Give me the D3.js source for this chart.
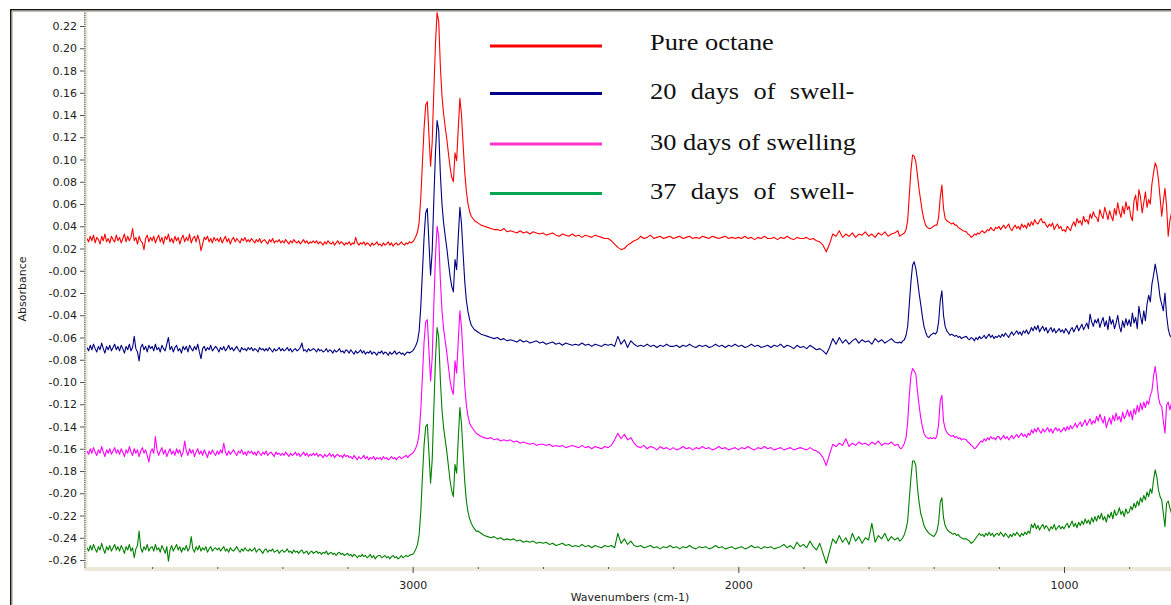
<!DOCTYPE html>
<html>
<head>
<meta charset="utf-8">
<script src="https://cdn.jsdelivr.net/npm/d3@7"></script>
<style>
  html, body { margin: 0; padding: 0; background: #fff; }
  svg { display: block; }
</style>
</head>
<body>
<svg id="chart" width="1171" height="605"></svg>
<script>
// ---- Data -----------------------------------------------------------------
// Spectra are sampled on a shared wavenumber grid (cm-1): 5 cm-1 steps in the
// noisy ends and the band regions, 10 cm-1 steps across the quiet middle.
const gridSegments = [
  [4000, 3005, 5],
  [3000, 2805, 5],
  [2800, 1510, 10],
  [1505, 1310, 5],
  [1300, 605, 5]
];
const wavenumbers = gridSegments.flatMap(([from, to, step]) => d3.range(from, to - step / 2, -step));

const pureOctane = [
  // 4000 - 3005
  0.029,0.026,0.031,0.027,0.032,0.025,0.030,0.028,0.024,0.031,0.027,0.033,0.026,0.029,0.025,0.031,0.028,0.026,0.032,0.027,
  0.030,0.025,0.029,0.033,0.026,0.031,0.027,0.030,0.038,0.027,0.030,0.024,0.031,0.027,0.025,0.019,0.029,0.032,0.026,0.030,
  0.027,0.031,0.025,0.029,0.032,0.026,0.030,0.024,0.031,0.028,0.033,0.026,0.029,0.025,0.031,0.027,0.030,0.024,0.029,0.032,
  0.026,0.030,0.027,0.033,0.025,0.029,0.031,0.026,0.032,0.027,0.018,0.024,0.030,0.028,0.031,0.026,0.029,0.025,0.030,0.027,
  0.029,0.026,0.030,0.025,0.028,0.031,0.026,0.029,0.024,0.028,0.030,0.026,0.029,0.027,0.025,0.029,0.027,0.030,0.026,0.028,
  0.026,0.029,0.027,0.025,0.028,0.026,0.029,0.025,0.027,0.028,0.026,0.024,0.028,0.026,0.029,0.025,0.027,0.026,0.028,0.025,
  0.027,0.025,0.028,0.026,0.024,0.027,0.025,0.028,0.026,0.025,0.027,0.024,0.026,0.028,0.025,0.027,0.024,0.026,0.025,0.027,
  0.025,0.027,0.024,0.026,0.025,0.023,0.026,0.024,0.027,0.025,0.024,0.026,0.023,0.025,0.027,0.024,0.026,0.025,0.023,0.025,
  0.024,0.026,0.023,0.025,0.024,0.030,0.025,0.023,0.025,0.024,0.026,0.023,0.025,0.024,0.022,0.025,0.023,0.024,0.026,0.023,
  0.024,0.022,0.025,0.023,0.024,0.026,0.023,0.025,0.022,0.024,0.025,0.023,0.024,0.026,0.024,0.023,0.025,0.024,0.026,0.025,
  // 3000 - 2805
  0.026,0.028,0.031,0.035,0.044,0.066,0.097,0.128,0.149,0.152,
  0.122,0.094,0.116,0.162,0.204,0.232,0.224,0.184,0.157,0.141,
  0.129,0.118,0.105,0.093,0.084,0.080,0.106,0.099,0.128,0.155,
  0.140,0.113,0.088,0.071,0.060,0.053,0.049,0.047,0.045,0.044,
  // 2800 - 1510
  0.043,0.041,0.040,0.039,0.038,0.037,0.037,0.036,0.038,0.035,
  0.036,0.035,0.034,0.036,0.034,0.035,0.033,0.035,0.034,0.033,
  0.034,0.032,0.033,0.034,0.032,0.031,0.033,0.032,0.031,0.033,
  0.031,0.032,0.030,0.032,0.031,0.030,0.032,0.031,0.030,0.029,
  0.029,0.027,0.024,0.021,0.019,0.020,0.023,0.025,0.027,0.028,
  0.031,0.029,0.030,0.032,0.029,0.030,0.031,0.029,0.030,0.031,
  0.029,0.030,0.031,0.029,0.030,0.031,0.029,0.030,0.029,0.031,
  0.030,0.029,0.031,0.030,0.029,0.030,0.031,0.029,0.030,0.029,
  0.030,0.029,0.031,0.029,0.030,0.028,0.030,0.029,0.031,0.029,
  0.029,0.030,0.028,0.030,0.029,0.031,0.029,0.028,0.030,0.029,
  0.029,0.030,0.028,0.029,0.027,0.026,0.023,0.017,0.024,0.033,
  0.031,0.036,0.030,0.033,0.031,0.034,0.030,0.033,0.032,0.035,
  0.031,0.033,0.030,0.034,0.032,0.035,0.031,0.033,0.034,0.036,
  // 1505 - 1310
  0.031,0.032,0.033,0.034,0.037,0.045,0.068,0.090,0.104,0.103,
  0.098,0.086,0.073,0.063,0.053,0.046,0.041,0.039,0.038,0.038,
  0.039,0.040,0.041,0.041,0.048,0.066,0.077,0.056,0.047,0.045,
  0.044,0.043,0.042,0.043,0.041,0.041,0.039,0.038,0.037,0.036,
  // 1300 - 605
  0.035,0.033,0.032,0.030,0.031,0.033,0.032,0.034,0.033,0.035,0.036,0.034,0.035,0.037,0.036,0.039,0.037,0.036,0.039,0.038,
  0.040,0.037,0.039,0.041,0.038,0.040,0.042,0.038,0.036,0.039,0.041,0.038,0.040,0.037,0.042,0.039,0.041,0.038,0.043,0.040,
  0.044,0.041,0.046,0.043,0.042,0.045,0.047,0.043,0.044,0.041,0.039,0.042,0.040,0.043,0.037,0.040,0.042,0.038,0.040,0.036,
  0.037,0.035,0.040,0.038,0.036,0.041,0.044,0.040,0.047,0.043,0.045,0.041,0.049,0.044,0.046,0.042,0.051,0.047,0.053,0.049,
  0.048,0.044,0.055,0.050,0.047,0.057,0.052,0.046,0.054,0.049,0.045,0.056,0.050,0.061,0.053,0.048,0.058,0.051,0.062,0.055,
  0.058,0.049,0.045,0.063,0.068,0.054,0.073,0.066,0.052,0.061,0.071,0.057,0.064,0.060,0.078,0.088,0.097,0.093,0.082,0.066,
  0.049,0.062,0.074,0.058,0.031,0.045,0.052,0.060,0.055,0.048,0.058,0.052,0.050,0.055,0.054,0.051,0.052,0.056,0.053,0.050
];

const swelling20 = [
  // 4000 - 3005
  -0.069,-0.072,-0.067,-0.071,-0.066,-0.070,-0.073,-0.068,-0.071,-0.065,-0.070,-0.074,-0.068,-0.071,-0.067,-0.072,-0.069,-0.066,-0.071,-0.068,
  -0.072,-0.067,-0.070,-0.074,-0.068,-0.071,-0.066,-0.072,-0.069,-0.059,-0.070,-0.073,-0.081,-0.069,-0.066,-0.071,-0.068,-0.073,-0.067,-0.070,
  -0.068,-0.072,-0.066,-0.071,-0.069,-0.073,-0.067,-0.070,-0.072,-0.066,-0.060,-0.071,-0.068,-0.073,-0.069,-0.067,-0.072,-0.070,-0.074,-0.068,
  -0.071,-0.068,-0.073,-0.067,-0.070,-0.072,-0.068,-0.071,-0.066,-0.073,-0.079,-0.070,-0.068,-0.072,-0.069,-0.071,-0.067,-0.072,-0.070,-0.068,
  -0.070,-0.073,-0.069,-0.071,-0.068,-0.072,-0.070,-0.067,-0.071,-0.069,-0.072,-0.070,-0.068,-0.071,-0.073,-0.069,-0.071,-0.070,-0.072,-0.069,
  -0.071,-0.069,-0.072,-0.070,-0.071,-0.073,-0.069,-0.071,-0.070,-0.072,-0.070,-0.072,-0.069,-0.071,-0.073,-0.070,-0.072,-0.071,-0.069,-0.072,
  -0.070,-0.072,-0.071,-0.069,-0.072,-0.070,-0.073,-0.071,-0.070,-0.072,-0.071,-0.069,-0.065,-0.072,-0.071,-0.073,-0.070,-0.072,-0.071,-0.070,
  -0.071,-0.073,-0.070,-0.072,-0.071,-0.073,-0.072,-0.070,-0.073,-0.071,-0.072,-0.074,-0.071,-0.073,-0.072,-0.070,-0.073,-0.072,-0.074,-0.071,
  -0.072,-0.074,-0.071,-0.073,-0.075,-0.072,-0.074,-0.073,-0.071,-0.074,-0.072,-0.075,-0.073,-0.074,-0.072,-0.075,-0.073,-0.074,-0.076,-0.073,
  -0.074,-0.072,-0.075,-0.073,-0.074,-0.076,-0.073,-0.075,-0.074,-0.072,-0.075,-0.074,-0.073,-0.075,-0.074,-0.076,-0.074,-0.073,-0.074,-0.073,
  // 3000 - 2805
  -0.072,-0.070,-0.067,-0.063,-0.054,-0.032,-0.001,0.030,0.052,0.056,
  0.025,-0.004,0.018,0.064,0.106,0.135,0.126,0.087,0.060,0.043,
  0.031,0.020,0.007,-0.005,-0.014,-0.019,0.010,0.001,0.030,0.057,
  0.042,0.015,-0.010,-0.027,-0.037,-0.044,-0.049,-0.051,-0.053,-0.054,
  // 2800 - 1510
  -0.055,-0.057,-0.058,-0.059,-0.060,-0.061,-0.060,-0.062,-0.061,-0.063,
  -0.062,-0.063,-0.064,-0.062,-0.064,-0.063,-0.065,-0.064,-0.063,-0.065,
  -0.064,-0.066,-0.065,-0.064,-0.066,-0.065,-0.067,-0.065,-0.066,-0.067,
  -0.066,-0.067,-0.065,-0.067,-0.066,-0.068,-0.066,-0.067,-0.068,-0.066,
  -0.067,-0.066,-0.068,-0.059,-0.066,-0.062,-0.069,-0.063,-0.066,-0.068,
  -0.067,-0.068,-0.066,-0.068,-0.067,-0.069,-0.067,-0.068,-0.066,-0.068,
  -0.068,-0.067,-0.069,-0.067,-0.068,-0.066,-0.068,-0.069,-0.067,-0.068,
  -0.067,-0.069,-0.068,-0.066,-0.068,-0.067,-0.069,-0.067,-0.068,-0.066,
  -0.068,-0.067,-0.069,-0.068,-0.066,-0.068,-0.067,-0.069,-0.068,-0.067,
  -0.069,-0.067,-0.068,-0.066,-0.069,-0.067,-0.068,-0.070,-0.067,-0.069,
  -0.068,-0.070,-0.067,-0.069,-0.071,-0.070,-0.072,-0.075,-0.069,-0.061,
  -0.066,-0.060,-0.065,-0.062,-0.066,-0.063,-0.061,-0.065,-0.062,-0.064,
  -0.063,-0.066,-0.061,-0.064,-0.062,-0.065,-0.063,-0.061,-0.064,-0.065,
  // 1505 - 1310
  -0.064,-0.065,-0.063,-0.062,-0.058,-0.050,-0.030,-0.010,0.005,0.008,
  0.002,-0.008,-0.020,-0.030,-0.041,-0.050,-0.055,-0.059,-0.060,-0.058,
  -0.057,-0.056,-0.057,-0.055,-0.046,-0.027,-0.018,-0.040,-0.050,-0.054,
  -0.056,-0.058,-0.057,-0.058,-0.059,-0.058,-0.060,-0.059,-0.061,-0.060,
  // 1300 - 605
  -0.059,-0.061,-0.062,-0.060,-0.061,-0.063,-0.060,-0.062,-0.059,-0.061,-0.060,-0.058,-0.061,-0.059,-0.057,-0.060,-0.058,-0.061,-0.059,-0.060,
  -0.058,-0.060,-0.057,-0.059,-0.056,-0.058,-0.060,-0.057,-0.055,-0.058,-0.056,-0.054,-0.057,-0.055,-0.058,-0.054,-0.056,-0.053,-0.057,-0.055,
  -0.051,-0.054,-0.050,-0.053,-0.049,-0.055,-0.052,-0.050,-0.054,-0.051,-0.056,-0.053,-0.051,-0.055,-0.052,-0.056,-0.054,-0.052,-0.055,-0.053,
  -0.056,-0.052,-0.054,-0.057,-0.053,-0.051,-0.055,-0.052,-0.049,-0.054,-0.051,-0.048,-0.053,-0.050,-0.047,-0.052,-0.039,-0.046,-0.050,-0.044,
  -0.047,-0.043,-0.051,-0.046,-0.042,-0.050,-0.045,-0.053,-0.041,-0.048,-0.044,-0.052,-0.047,-0.040,-0.050,-0.055,-0.045,-0.051,-0.043,-0.049,
  -0.044,-0.050,-0.038,-0.047,-0.042,-0.052,-0.032,-0.041,-0.048,-0.036,-0.045,-0.030,-0.022,-0.028,-0.012,-0.004,0.006,-0.002,-0.012,-0.024,
  -0.030,-0.036,-0.020,-0.040,-0.052,-0.058,-0.060,-0.055,-0.058,-0.052,-0.056,-0.054,-0.057,-0.053,-0.055,-0.056,-0.054,-0.057,-0.055,-0.056
];

const swelling30 = [
  // 4000 - 3005
  -0.162,-0.165,-0.160,-0.164,-0.159,-0.163,-0.166,-0.161,-0.164,-0.158,-0.163,-0.167,-0.161,-0.164,-0.160,-0.165,-0.162,-0.159,-0.164,-0.161,
  -0.165,-0.160,-0.163,-0.167,-0.161,-0.164,-0.158,-0.163,-0.166,-0.160,-0.164,-0.161,-0.167,-0.162,-0.159,-0.164,-0.161,-0.166,-0.172,-0.163,
  -0.160,-0.164,-0.149,-0.161,-0.166,-0.162,-0.159,-0.165,-0.161,-0.167,-0.163,-0.160,-0.165,-0.162,-0.166,-0.160,-0.164,-0.161,-0.167,-0.163,
  -0.153,-0.162,-0.166,-0.160,-0.164,-0.161,-0.167,-0.163,-0.160,-0.165,-0.162,-0.166,-0.161,-0.164,-0.168,-0.162,-0.165,-0.161,-0.164,-0.166,
  -0.162,-0.165,-0.161,-0.164,-0.155,-0.163,-0.166,-0.162,-0.165,-0.163,-0.161,-0.164,-0.166,-0.162,-0.164,-0.161,-0.165,-0.163,-0.166,-0.162,
  -0.164,-0.162,-0.165,-0.163,-0.166,-0.162,-0.164,-0.166,-0.163,-0.165,-0.162,-0.166,-0.164,-0.163,-0.165,-0.167,-0.163,-0.165,-0.164,-0.166,
  -0.164,-0.166,-0.163,-0.165,-0.167,-0.164,-0.166,-0.165,-0.163,-0.166,-0.164,-0.167,-0.165,-0.163,-0.166,-0.164,-0.167,-0.165,-0.166,-0.164,
  -0.166,-0.164,-0.167,-0.165,-0.166,-0.168,-0.165,-0.167,-0.166,-0.164,-0.167,-0.165,-0.168,-0.166,-0.165,-0.167,-0.166,-0.168,-0.165,-0.167,
  -0.166,-0.168,-0.167,-0.169,-0.166,-0.168,-0.170,-0.167,-0.169,-0.168,-0.166,-0.169,-0.167,-0.170,-0.168,-0.169,-0.167,-0.170,-0.168,-0.169,
  -0.168,-0.170,-0.167,-0.169,-0.168,-0.170,-0.169,-0.167,-0.169,-0.168,-0.170,-0.168,-0.167,-0.169,-0.168,-0.167,-0.166,-0.168,-0.166,-0.165,
  // 3000 - 2805
  -0.164,-0.162,-0.159,-0.155,-0.146,-0.125,-0.095,-0.064,-0.046,-0.044,
  -0.072,-0.099,-0.078,-0.030,0.012,0.040,0.031,-0.008,-0.036,-0.052,
  -0.063,-0.074,-0.087,-0.099,-0.107,-0.111,-0.081,-0.092,-0.063,-0.036,
  -0.051,-0.078,-0.104,-0.121,-0.131,-0.137,-0.140,-0.142,-0.144,-0.146,
  // 2800 - 1510
  -0.147,-0.149,-0.150,-0.151,-0.150,-0.152,-0.151,-0.153,-0.152,-0.153,
  -0.152,-0.154,-0.153,-0.155,-0.154,-0.155,-0.156,-0.155,-0.157,-0.156,
  -0.156,-0.157,-0.156,-0.158,-0.157,-0.158,-0.157,-0.159,-0.158,-0.157,
  -0.158,-0.159,-0.157,-0.159,-0.158,-0.160,-0.158,-0.159,-0.160,-0.158,
  -0.159,-0.157,-0.152,-0.146,-0.151,-0.147,-0.152,-0.150,-0.155,-0.158,
  -0.159,-0.157,-0.160,-0.158,-0.159,-0.161,-0.158,-0.160,-0.159,-0.161,
  -0.159,-0.161,-0.160,-0.158,-0.160,-0.159,-0.161,-0.159,-0.160,-0.158,
  -0.160,-0.159,-0.161,-0.160,-0.158,-0.160,-0.159,-0.161,-0.160,-0.159,
  -0.161,-0.159,-0.160,-0.158,-0.160,-0.161,-0.159,-0.160,-0.158,-0.160,
  -0.159,-0.161,-0.160,-0.159,-0.161,-0.160,-0.159,-0.161,-0.160,-0.159,
  -0.160,-0.161,-0.159,-0.161,-0.162,-0.164,-0.168,-0.175,-0.165,-0.156,
  -0.158,-0.155,-0.157,-0.151,-0.158,-0.155,-0.157,-0.154,-0.156,-0.155,
  -0.157,-0.154,-0.156,-0.153,-0.157,-0.155,-0.156,-0.154,-0.157,-0.156,
  // 1505 - 1310
  -0.159,-0.160,-0.158,-0.155,-0.150,-0.136,-0.112,-0.094,-0.088,-0.090,
  -0.093,-0.108,-0.121,-0.132,-0.140,-0.146,-0.149,-0.150,-0.151,-0.150,
  -0.151,-0.150,-0.151,-0.148,-0.138,-0.117,-0.112,-0.135,-0.142,-0.145,
  -0.147,-0.148,-0.149,-0.148,-0.150,-0.149,-0.151,-0.150,-0.152,-0.151,
  // 1300 - 605
  -0.152,-0.154,-0.155,-0.157,-0.158,-0.160,-0.159,-0.157,-0.155,-0.153,-0.154,-0.151,-0.153,-0.150,-0.152,-0.149,-0.151,-0.150,-0.152,-0.149,
  -0.149,-0.152,-0.150,-0.148,-0.151,-0.149,-0.152,-0.150,-0.148,-0.151,-0.149,-0.147,-0.150,-0.148,-0.146,-0.149,-0.147,-0.150,-0.146,-0.148,
  -0.143,-0.146,-0.142,-0.145,-0.141,-0.144,-0.146,-0.142,-0.145,-0.143,-0.141,-0.145,-0.142,-0.146,-0.143,-0.141,-0.144,-0.142,-0.145,-0.143,
  -0.141,-0.144,-0.140,-0.143,-0.139,-0.142,-0.140,-0.137,-0.141,-0.138,-0.136,-0.140,-0.137,-0.134,-0.139,-0.136,-0.133,-0.138,-0.135,-0.137,
  -0.131,-0.135,-0.129,-0.133,-0.137,-0.131,-0.141,-0.136,-0.132,-0.138,-0.130,-0.135,-0.128,-0.134,-0.131,-0.136,-0.127,-0.133,-0.130,-0.125,
  -0.131,-0.126,-0.134,-0.124,-0.129,-0.121,-0.127,-0.119,-0.125,-0.118,-0.123,-0.117,-0.120,-0.112,-0.108,-0.095,-0.086,-0.098,-0.114,-0.120,
  -0.122,-0.135,-0.146,-0.121,-0.118,-0.125,-0.119,-0.123,-0.120,-0.124,-0.121,-0.123,-0.120,-0.122,-0.121,-0.124,-0.120,-0.122,-0.121,-0.123
];

const swelling37 = [
  // 4000 - 3005
  -0.249,-0.252,-0.247,-0.251,-0.246,-0.250,-0.253,-0.248,-0.251,-0.245,-0.250,-0.254,-0.248,-0.251,-0.247,-0.252,-0.249,-0.246,-0.251,-0.248,
  -0.252,-0.247,-0.250,-0.254,-0.248,-0.251,-0.246,-0.252,-0.249,-0.258,-0.250,-0.247,-0.234,-0.249,-0.253,-0.248,-0.251,-0.246,-0.252,-0.249,
  -0.248,-0.252,-0.246,-0.251,-0.249,-0.253,-0.247,-0.250,-0.254,-0.248,-0.261,-0.251,-0.247,-0.252,-0.249,-0.246,-0.251,-0.248,-0.253,-0.249,
  -0.251,-0.247,-0.252,-0.249,-0.239,-0.250,-0.253,-0.248,-0.251,-0.247,-0.252,-0.249,-0.251,-0.248,-0.253,-0.250,-0.248,-0.252,-0.250,-0.249,
  -0.251,-0.249,-0.252,-0.250,-0.248,-0.252,-0.250,-0.253,-0.249,-0.251,-0.252,-0.250,-0.248,-0.251,-0.253,-0.250,-0.252,-0.249,-0.251,-0.252,
  -0.250,-0.252,-0.251,-0.249,-0.253,-0.251,-0.250,-0.252,-0.254,-0.251,-0.250,-0.253,-0.251,-0.252,-0.250,-0.253,-0.252,-0.251,-0.254,-0.252,
  -0.251,-0.253,-0.252,-0.250,-0.253,-0.252,-0.254,-0.251,-0.253,-0.252,-0.254,-0.252,-0.251,-0.254,-0.253,-0.252,-0.255,-0.253,-0.252,-0.254,
  -0.253,-0.252,-0.254,-0.253,-0.255,-0.253,-0.254,-0.252,-0.255,-0.254,-0.253,-0.255,-0.254,-0.256,-0.254,-0.253,-0.255,-0.254,-0.256,-0.255,
  -0.254,-0.256,-0.255,-0.257,-0.255,-0.256,-0.258,-0.256,-0.257,-0.255,-0.257,-0.256,-0.258,-0.257,-0.255,-0.258,-0.256,-0.259,-0.257,-0.256,
  -0.256,-0.258,-0.257,-0.256,-0.258,-0.257,-0.259,-0.257,-0.256,-0.258,-0.257,-0.259,-0.258,-0.256,-0.258,-0.257,-0.256,-0.257,-0.256,-0.255,
  // 3000 - 2805
  -0.255,-0.253,-0.250,-0.246,-0.237,-0.216,-0.185,-0.157,-0.140,-0.138,
  -0.164,-0.191,-0.170,-0.124,-0.080,-0.051,-0.060,-0.098,-0.125,-0.141,
  -0.152,-0.163,-0.176,-0.189,-0.198,-0.203,-0.174,-0.182,-0.151,-0.123,
  -0.138,-0.165,-0.190,-0.207,-0.217,-0.223,-0.227,-0.230,-0.232,-0.234,
  // 2800 - 1510
  -0.234,-0.236,-0.238,-0.239,-0.240,-0.239,-0.241,-0.240,-0.242,-0.241,
  -0.242,-0.241,-0.243,-0.242,-0.244,-0.243,-0.244,-0.243,-0.245,-0.244,
  -0.245,-0.244,-0.246,-0.245,-0.247,-0.246,-0.245,-0.247,-0.246,-0.248,
  -0.247,-0.248,-0.246,-0.248,-0.247,-0.249,-0.247,-0.248,-0.249,-0.247,
  -0.248,-0.247,-0.249,-0.236,-0.245,-0.241,-0.246,-0.243,-0.247,-0.248,
  -0.247,-0.249,-0.248,-0.247,-0.249,-0.248,-0.250,-0.248,-0.249,-0.247,
  -0.249,-0.248,-0.250,-0.248,-0.249,-0.247,-0.249,-0.250,-0.248,-0.249,
  -0.248,-0.250,-0.249,-0.247,-0.249,-0.248,-0.250,-0.249,-0.248,-0.250,
  -0.249,-0.248,-0.250,-0.249,-0.247,-0.249,-0.248,-0.250,-0.248,-0.249,
  -0.248,-0.250,-0.249,-0.248,-0.246,-0.249,-0.247,-0.250,-0.244,-0.248,
  -0.246,-0.249,-0.243,-0.248,-0.251,-0.245,-0.254,-0.263,-0.252,-0.241,
  -0.245,-0.238,-0.244,-0.240,-0.246,-0.236,-0.243,-0.239,-0.245,-0.240,
  -0.242,-0.227,-0.244,-0.238,-0.241,-0.236,-0.243,-0.239,-0.242,-0.240,
  // 1505 - 1310
  -0.243,-0.242,-0.240,-0.237,-0.232,-0.225,-0.205,-0.186,-0.171,-0.171,
  -0.175,-0.195,-0.208,-0.218,-0.223,-0.229,-0.232,-0.234,-0.236,-0.237,
  -0.238,-0.239,-0.237,-0.234,-0.226,-0.208,-0.204,-0.222,-0.229,-0.232,
  -0.234,-0.235,-0.236,-0.237,-0.236,-0.238,-0.237,-0.239,-0.240,-0.241,
  // 1300 - 605
  -0.241,-0.242,-0.243,-0.245,-0.244,-0.242,-0.240,-0.238,-0.236,-0.238,-0.237,-0.239,-0.236,-0.238,-0.235,-0.238,-0.236,-0.239,-0.237,-0.236,
  -0.238,-0.235,-0.237,-0.239,-0.236,-0.238,-0.240,-0.237,-0.239,-0.236,-0.238,-0.235,-0.237,-0.239,-0.236,-0.238,-0.235,-0.237,-0.234,-0.236,
  -0.228,-0.231,-0.227,-0.232,-0.229,-0.233,-0.230,-0.228,-0.232,-0.229,-0.231,-0.234,-0.230,-0.232,-0.228,-0.233,-0.231,-0.229,-0.232,-0.230,
  -0.232,-0.229,-0.227,-0.231,-0.228,-0.225,-0.230,-0.227,-0.231,-0.226,-0.229,-0.225,-0.228,-0.223,-0.227,-0.224,-0.228,-0.222,-0.226,-0.221,
  -0.225,-0.220,-0.223,-0.218,-0.224,-0.221,-0.226,-0.219,-0.222,-0.217,-0.223,-0.215,-0.220,-0.218,-0.213,-0.219,-0.216,-0.221,-0.214,-0.218,
  -0.217,-0.212,-0.215,-0.209,-0.213,-0.207,-0.211,-0.204,-0.208,-0.202,-0.206,-0.199,-0.203,-0.196,-0.200,-0.188,-0.179,-0.185,-0.197,-0.203,
  -0.206,-0.218,-0.230,-0.209,-0.207,-0.213,-0.218,-0.214,-0.216,-0.212,-0.215,-0.217,-0.213,-0.216,-0.214,-0.217,-0.215,-0.213,-0.216,-0.214
];

const seriesNames = ["Pure octane", "20 days of swell-", "30 days of swelling", "37 days of swell-"];
const seriesValues = [pureOctane, swelling20, swelling30, swelling37];

const yTickLabels = ["0.22","0.20","0.18","0.16","0.14","0.12","0.10","0.08","0.06","0.04","0.02","-0.00",
  "-0.02","-0.04","-0.06","-0.08","-0.10","-0.12","-0.14","-0.16","-0.18","-0.20","-0.22","-0.24","-0.26"];
const xTickLabels = ["3000", "2000", "1000"];

// ---- Styling and layout ---------------------------------------------------
const lineColors = ["#ff0000", "#000080", "#ff00ff", "#008000"];
const legendColors = ["#ff0000", "#00008b", "#ff33cc", "#00a650"];
const legendLineY = [46, 93.5, 144, 193.5];
const legendBaseY = [50, 99, 150, 199];
const legendJustify = [false, true, false, true];

const plot = { left: 87, top: 12, right: 1171, bottom: 567 };
const axisFont = "'DejaVu Sans', Verdana, sans-serif";
const stripColor = "#ece9d8";

const svg = d3.select("#chart");

const x = d3.scaleLinear().domain([4000, 1000]).range([87, 1064]);
const y = d3.scaleLinear().domain([0.22, -0.26]).range([26, 560]);

// Window frame
svg.append("rect").attr("x", 10).attr("y", 9).attr("width", 1161).attr("height", 1.6).attr("fill", "#151515");
svg.append("rect").attr("x", 11).attr("y", 10.6).attr("width", 1160).attr("height", 1.3).attr("fill", "#bdb9ab");
svg.append("rect").attr("x", 10).attr("y", 9).attr("width", 1.6).attr("height", 596).attr("fill", "#151515");
svg.append("rect").attr("x", 11.6).attr("y", 10.6).attr("width", 1.2).attr("height", 594).attr("fill", "#bdb9ab");

// Axis strips
svg.append("rect").attr("x", 84).attr("y", plot.top).attr("width", 3.5).attr("height", plot.bottom - plot.top + 4)
  .attr("fill", stripColor);
svg.append("rect").attr("x", 84).attr("y", plot.bottom).attr("width", plot.right - 84).attr("height", 4)
  .attr("fill", stripColor);

// Y axis: major ticks with labels, dense minor ticks on the strip
const yMajor = yTickLabels.map(Number);
const yAxis = svg.append("g").attr("transform", "translate(84,0)")
  .call(d3.axisLeft(y).tickValues(yMajor).tickFormat((d, i) => yTickLabels[i]).tickSize(4).tickPadding(3));
yAxis.select(".domain").remove();
yAxis.selectAll("line").attr("stroke", "#555");
yAxis.selectAll("text").attr("font-family", axisFont).attr("font-size", 11).attr("fill", "#222");

const yDomainTop = y.invert(plot.top), yDomainBottom = y.invert(plot.bottom);
const yMinor = d3.range(-140, 120).map(i => i * 0.002).filter(v => v <= yDomainTop && v >= yDomainBottom);
const yMinorAxis = svg.append("g").attr("transform", "translate(84,0)")
  .call(d3.axisRight(y).tickValues(yMinor).tickFormat("").tickSize(1.6));
yMinorAxis.select(".domain").remove();
yMinorAxis.selectAll("line").attr("stroke", "#6b6b6b");

// X axis
const xAxis = svg.append("g").attr("transform", `translate(0,${plot.bottom})`)
  .call(d3.axisBottom(x).tickValues(xTickLabels.map(Number)).tickFormat((d, i) => xTickLabels[i]).tickSize(6).tickPadding(8));
xAxis.select(".domain").remove();
xAxis.selectAll("line").attr("stroke", "#444");
xAxis.selectAll("text").attr("font-family", axisFont).attr("font-size", 11).attr("fill", "#222");

const xMinor = d3.range(3800, 600, -200).filter(v => v % 1000 !== 0);
const xMinorAxis = svg.append("g").attr("transform", `translate(0,${plot.bottom})`)
  .call(d3.axisBottom(x).tickValues(xMinor).tickFormat("").tickSize(2));
xMinorAxis.select(".domain").remove();
xMinorAxis.selectAll("line").attr("stroke", "#555");

// Axis titles
svg.append("text").attr("x", 630).attr("y", 601).attr("text-anchor", "middle")
  .attr("font-family", axisFont).attr("font-size", 11).attr("fill", "#222")
  .text("Wavenumbers (cm-1)");
svg.append("text").attr("transform", "translate(26,289) rotate(-90)").attr("text-anchor", "middle")
  .attr("font-family", axisFont).attr("font-size", 11).attr("fill", "#222")
  .text("Absorbance");

// Spectra
svg.append("clipPath").attr("id", "plot-clip").append("rect")
  .attr("x", plot.left).attr("y", plot.top).attr("width", plot.right - plot.left).attr("height", plot.bottom - plot.top);

const line = d3.line().x(d => x(d.wn)).y(d => y(d.v));
const spectra = svg.append("g").attr("clip-path", "url(#plot-clip)");
seriesValues.forEach((vals, s) => {
  const pts = wavenumbers.map((wn, i) => ({ wn, v: vals[i] })).filter(d => d.v !== undefined);
  spectra.append("path").datum(pts)
    .attr("fill", "none").attr("stroke", lineColors[s]).attr("stroke-width", 1.1)
    .attr("stroke-linejoin", "round").attr("d", line);
});

// Legend
const legendFont = "'Liberation Serif', 'Times New Roman', serif";
const legendSize = 24, legendStretch = 1.1, legendX = 650;
const legend = svg.append("g");

const probe = svg.append("text").attr("font-family", legendFont).attr("font-size", legendSize).attr("visibility", "hidden");
const measure = t => { probe.text(t); return probe.node().getComputedTextLength(); };
const fullWidth = measure(seriesNames[2]) - 1.5;

seriesNames.forEach((name, i) => {
  legend.append("line").attr("x1", 490).attr("x2", 602)
    .attr("y1", legendLineY[i]).attr("y2", legendLineY[i])
    .attr("stroke", legendColors[i]).attr("stroke-width", 3);
  const t = legend.append("text")
    .attr("transform", `translate(${legendX},${legendBaseY[i]}) scale(${legendStretch},1)`)
    .attr("font-family", legendFont).attr("font-size", legendSize).attr("fill", "#111");
  if (legendJustify[i]) {
    const words = name.split(" ");
    const widths = words.map(measure);
    const gap = (fullWidth - d3.sum(widths)) / (words.length - 1);
    let pos = 0;
    words.forEach((w, k) => {
      t.append("tspan").attr("x", pos).text(k < words.length - 1 ? w + " " : w);
      pos += widths[k] + gap;
    });
  } else {
    t.text(name);
  }
});
probe.remove();
</script>
</body>
</html>
